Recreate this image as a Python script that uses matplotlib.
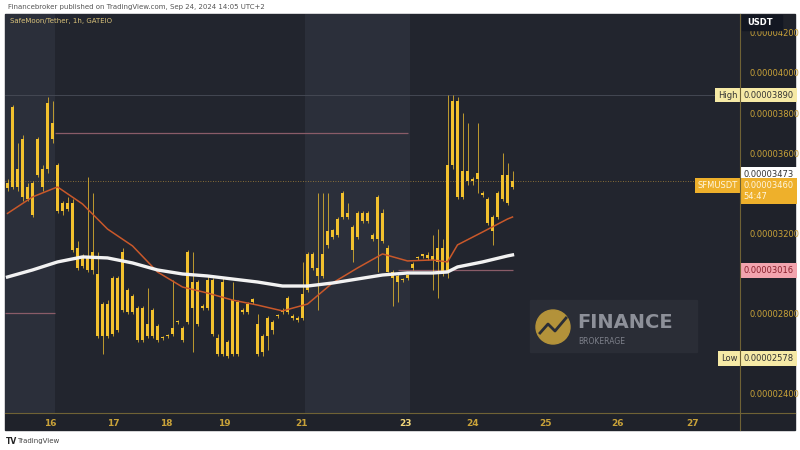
import matplotlib
matplotlib.use("Agg")
import matplotlib.pyplot as plt
import matplotlib.patches as mpatches
from matplotlib.lines import Line2D
import numpy as np

# ── Data (prices in 1e-8 USDT) ──────────────────────────────
opens = [3450, 3430, 3520, 3380, 3430, 3450, 3490, 3520, 3520, 3750,
         3540, 3310, 3350, 3350, 3130, 3040, 3090, 3020, 3000, 2690,
         2850, 2700, 2980, 2820, 2920, 2810, 2830, 2670, 2750, 2690,
         2740, 2680, 2690, 2730, 2760, 2730, 2760, 2830, 2960, 2830,
         2830, 2970, 2680, 2600, 2660, 2600, 2860, 2820, 2810, 2860,
         2750, 2610, 2690, 2760, 2790, 2810, 2810, 2790, 2780, 2780,
         2920, 3100, 3030, 2990, 3140, 3180, 3190, 3280, 3300, 3230,
         3180, 3300, 3260, 3190, 3170, 3300, 3130, 3010, 2990, 2970,
         2980, 3030, 3080, 3090, 3095, 3090, 3060, 3130, 3010, 3540,
         3860, 3380, 3510, 3460, 3470, 3400, 3370, 3210, 3280, 3370,
         3490, 3430]
highs = [3470, 3840, 3650, 3690, 3450, 3460, 3680, 3540, 3880, 3860,
         3550, 3360, 3380, 3370, 3160, 3100, 3480, 3400, 3110, 2860,
         2870, 2990, 2990, 3130, 2930, 2900, 2840, 2840, 2930, 2830,
         2750, 2690, 2700, 2970, 2770, 2740, 3120, 3110, 2970, 2850,
         2990, 2980, 2700, 2980, 2670, 2960, 2870, 2830, 2860, 2880,
         2800, 2700, 2790, 2770, 2800, 2830, 2890, 2800, 2790, 3060,
         3110, 3110, 3400, 3400, 3400, 3220, 3280, 3410, 3350, 3240,
         3310, 3310, 3310, 3200, 3390, 3320, 3140, 3020, 3000, 2980,
         3000, 3060, 3090, 3100, 3110, 3190, 3220, 3170, 3890, 3890,
         3880, 3800, 3750, 3480, 3750, 3410, 3380, 3290, 3410, 3600,
         3550, 3510]
lows = [3410, 3420, 3410, 3360, 3360, 3280, 3480, 3410, 3500, 3650,
        3300, 3290, 3310, 3110, 3020, 3030, 3010, 3000, 2680, 2600,
        2680, 2690, 2710, 2810, 2800, 2800, 2660, 2660, 2680, 2680,
        2660, 2670, 2680, 2690, 2750, 2660, 2750, 2610, 2740, 2820,
        2820, 2690, 2590, 2590, 2578, 2590, 2590, 2800, 2800, 2850,
        2590, 2590, 2620, 2700, 2780, 2800, 2800, 2770, 2760, 2770,
        2910, 3020, 2820, 2980, 3130, 3170, 3180, 3270, 3270, 3060,
        3170, 3250, 3250, 3160, 3010, 3150, 3010, 2840, 2860, 2960,
        2970, 3020, 3070, 3080, 3070, 2920, 2880, 2990, 2980, 3520,
        3370, 3370, 3440, 3440, 3400, 3380, 3240, 3140, 3270, 3360,
        3340, 3420]
closes = [3425, 3830, 3430, 3670, 3370, 3290, 3670, 3430, 3850, 3670,
          3310, 3350, 3320, 3120, 3030, 3090, 3020, 3110, 2690, 2850,
          2690, 2980, 2720, 3110, 2810, 2890, 2670, 2830, 2690, 2820,
          2670, 2685, 2690, 2700, 2760, 2670, 3110, 2960, 2750, 2840,
          2970, 2700, 2600, 2960, 2590, 2870, 2600, 2810, 2850, 2875,
          2600, 2690, 2780, 2720, 2795, 2820, 2880, 2780, 2770, 2900,
          3100, 3030, 2990, 3100, 3210, 3215, 3270, 3400, 3280, 3120,
          3300, 3260, 3300, 3170, 3380, 3160, 3010, 2980, 2960, 2975,
          2995, 3050, 3085, 3100, 3080, 3070, 3130, 3010, 3540, 3860,
          3380, 3510, 3460, 3470, 3500, 3390, 3250, 3280, 3400, 3490,
          3350, 3460]

# moving averages at selected bars
ma_bars = [0, 5, 10, 15, 20, 25, 30, 35, 40, 45, 50, 55, 60, 65, 70,
           75, 80, 85, 88, 90, 95, 100, 101]
ma_fast = [3300, 3382, 3432, 3347, 3222, 3138, 3008, 2933, 2903, 2868,
           2843, 2814, 2848, 2953, 3028, 3098, 3063, 3068, 3058, 3143,
           3207, 3272, 3282]
ma_slow = [2983, 3018, 3058, 3083, 3078, 3053, 3018, 2998, 2988, 2973,
           2958, 2938, 2938, 2953, 2973, 2993, 3003, 3003, 3008, 3033,
           3058, 3088, 3093]

day_labels = ["16", "17", "18", "19", "21", "23", "24", "25", "26", "27"]
day_pos = [8.6, 21.1, 31.7, 43.3, 58.9, 79.5, 93.1, 107.5, 122.1, 137.1]

price_ticks = [2400, 2800, 3200, 3600, 3800, 4000, 4200]
high_price, low_price = 3890, 2578
last_price, bid_price, ma_price = 3460, 3473, 3016

# ── Style ────────────────────────────────────────────────────
BG = "#22252e"
BAND = "#2b2f3a"
CANDLE = "#f2c12e"
GOLD = "#c9a239"
LINE = "#6f6235"

W, H = 800, 450
fig = plt.figure(figsize=(8, 4.5), dpi=100)
fig.patch.set_facecolor("white")


def fx(px):
    return px / W


def fy(py):
    return 1 - py / H


# dark chart panel
fig.add_artist(mpatches.Rectangle((fx(5), fy(430)), fx(790), 416 / H,
                                  color="#1f222a", zorder=0))

ax = fig.add_axes([fx(5), fy(413), 735 / W, 399 / H])
ax.set_facecolor(BG)
for s in ax.spines.values():
    s.set_visible(False)

ax.axvspan(-0.5, 9.5, color=BAND, lw=0, zorder=0)
ax.axvspan(59.5, 80.5, color=BAND, lw=0, zorder=0)

# reference lines
ax.axhline(high_price, color="#444853", lw=0.7, zorder=1)
ax.hlines(3701, 9.5, 80, color="#8a5c68", lw=0.9, zorder=1)
ax.hlines(2803, -0.5, 9.5, color="#8a5c68", lw=0.9, zorder=1)
ax.hlines(ma_price, 78, 101, color="#8a5c68", lw=0.9, zorder=1)
ax.axhline(last_price, color="#a9853a", lw=0.6, ls=(0, (1, 2)), zorder=1)

# candles
x = np.arange(len(opens))
o = np.array(opens)
c = np.array(closes)
bottom = np.minimum(o, c)
height = np.maximum(np.abs(c - o), 4)
ax.vlines(x, lows, highs, color=CANDLE, lw=0.7, alpha=0.75, zorder=3)
ax.bar(x, height, bottom=bottom, width=0.66, color=CANDLE, lw=0, zorder=4)

# moving averages
ax.plot(ma_bars, ma_fast, color="#c9582a", lw=1.1, zorder=5)
ax.plot(ma_bars, ma_slow, color="#f2f2f2", lw=2.4, zorder=5)

ax.set_xlim(-0.5, 146.5)
ax.set_ylim(2305, 4294)

ax.set_xticks(day_pos)
ax.set_xticklabels(day_labels)
ax.tick_params(axis="x", length=0, pad=4, labelsize=6.5, labelcolor=GOLD)
for lab in ax.get_xticklabels():
    lab.set_fontweight("bold")
    if lab.get_text() == "23":
        lab.set_color("#f3d77a")

ax.yaxis.tick_right()
ax.set_yticks(price_ticks)
ax.set_yticklabels([f"{v * 1e-8:.8f}" for v in price_ticks])
ax.tick_params(axis="y", length=0, pad=7, labelsize=6, labelcolor=GOLD)

# axis separators
fig.add_artist(Line2D([fx(740), fx(740)], [fy(430), fy(14)], color=LINE, lw=0.8))
fig.add_artist(Line2D([fx(5), fx(795)], [fy(413), fy(413)], color=LINE, lw=0.8))

# price-scale labels
yt = ax.get_yaxis_transform()


def price_tag(val, text, fc, tc, va="center", side=None):
    ax.text(1.005, val, text, transform=yt, ha="left", va=va,
            fontsize=6, color=tc, clip_on=False, zorder=10, linespacing=1.25,
            bbox=dict(boxstyle="square,pad=0.35", fc=fc, ec="none"))
    if side:
        ax.text(0.997, val, side, transform=yt, ha="right", va=va,
                fontsize=6, color=tc, clip_on=False, zorder=10,
                bbox=dict(boxstyle="square,pad=0.35", fc=fc, ec="none"))


price_tag(high_price, f"{high_price * 1e-8:.8f}", "#f6eaa6", "#333333",
          side="High")
price_tag(bid_price, f"{bid_price * 1e-8:.8f}", "#ffffff", "#333333",
          va="bottom")
price_tag(last_price, f"{last_price * 1e-8:.8f}\n54:47", "#eeb02b", "#fff6e0",
          va="top", side="SFMUSDT")
price_tag(ma_price, f"{ma_price * 1e-8:.8f}", "#f2a4ae", "#8a1f2c")
price_tag(low_price, f"{low_price * 1e-8:.8f}", "#f6eaa6", "#333333",
          side="Low")

# currency box
fig.add_artist(mpatches.Rectangle((fx(742), fy(30)), 40 / W, 15 / H,
                                  color="#131722", zorder=10))
fig.text(fx(747), fy(22.5), "USDT", fontsize=6, color="white",
         fontweight="bold", va="center", zorder=11)

# watermark
fig.add_artist(mpatches.Rectangle((fx(530), fy(352)), 167 / W, 52 / H,
                                  color="#2a2d36", zorder=6))
fig.add_artist(mpatches.Ellipse((fx(553), fy(327)), 34 / W, 34 / H,
                                color="#b3923a", zorder=7))
fig.add_artist(Line2D([fx(540), fx(548), fx(555), fx(566)],
                      [fy(333), fy(324), fy(331), fy(318)],
                      color="#2a2d36", lw=2, zorder=8))
fig.text(fx(577), fy(322), "FINANCE", fontsize=14, fontweight="bold",
         color="#8d9099", va="center", zorder=8)
fig.text(fx(578), fy(341), "BROKERAGE", fontsize=5.5, color="#7d808a",
         va="center", zorder=8)

# header / footer
fig.text(fx(8), fy(7), "Financebroker published on TradingView.com, Sep 24, 2024 14:05 UTC+2",
         fontsize=5, color="#555555", va="center")
fig.text(fx(10), fy(21), "SafeMoon/Tether, 1h, GATEIO", fontsize=5,
         color="#d9c27a", va="center", zorder=12)
fig.text(fx(6), fy(441), "TV", fontsize=5.5, fontweight="bold",
         color="#222222", va="center")
fig.text(fx(17), fy(441), "TradingView", fontsize=5, color="#444444",
         va="center")

plt.savefig("out.png", dpi=100, facecolor=fig.get_facecolor())
